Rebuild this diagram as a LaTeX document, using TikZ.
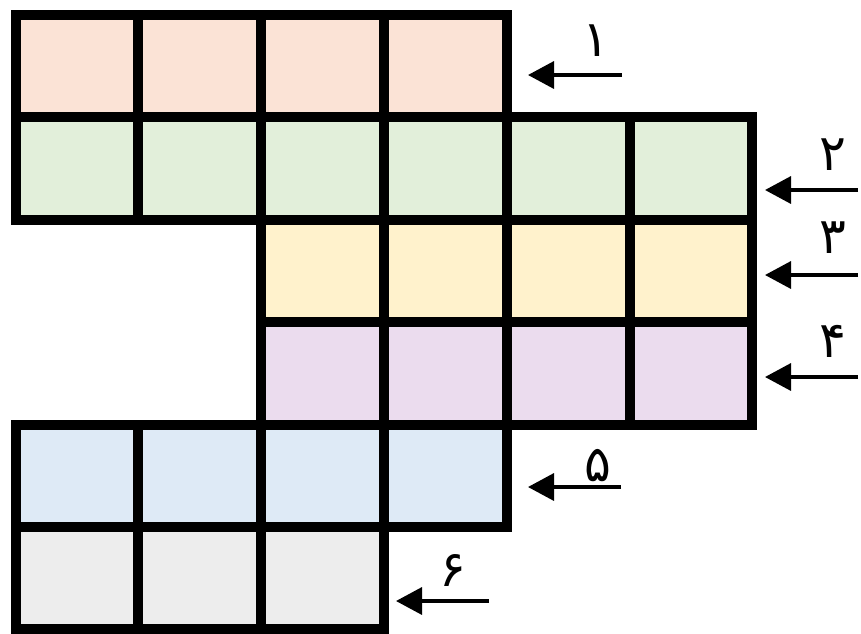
\documentclass[tikz,border=0pt]{standalone}
\usepackage{fontspec}
\newfontfamily\farsi[Script=Arabic]{DejaVu Sans}
\usepackage{tikz}
\usetikzlibrary{arrows.meta}
\definecolor{peach}{HTML}{FBE3D6}
\definecolor{mint}{HTML}{E2EFDA}
\definecolor{cream}{HTML}{FFF2CC}
\definecolor{lilac}{HTML}{EBDCEE}
\definecolor{sky}{HTML}{DEEAF6}
\definecolor{ash}{HTML}{EDEDED}
\tikzstyle{cell} = [draw, line width=10pt, line join=miter]
\tikzstyle{pointer} = [line width=3.5pt, -{Triangle[length=26pt,width=27pt]}]
\tikzstyle{digit} = [font=\farsi\fontsize{50}{50}\selectfont, inner sep=0pt]

\begin{document}
\begin{tikzpicture}[x=1pt,y=-1pt]
	\useasboundingbox (0,0) rectangle (861,633);
	\def\cw{122.8}
	\def\ch{102.4}
	% rows of cells: row / first column / last column / colour
	\foreach \r/\a/\b/\c in {0/0/3/peach,1/0/5/mint,2/2/5/cream,3/2/5/lilac,4/0/3/sky,5/0/2/ash}{
		\foreach \i in {\a,...,\b}{
			\draw[cell,fill=\c] ({15.5+\i*\cw},{15+\r*\ch}) rectangle +(\cw,\ch);
		}
	}
	% arrows
	\coordinate (s1) at (622,75);  \coordinate (e1) at (528,75);
	\coordinate (s2) at (858,190); \coordinate (e2) at (765,190);
	\coordinate (s3) at (858,275); \coordinate (e3) at (765,275);
	\coordinate (s4) at (858,377); \coordinate (e4) at (765,377);
	\coordinate (s5) at (621,487); \coordinate (e5) at (528,487);
	\coordinate (s6) at (489,601); \coordinate (e6) at (396,601);
	\foreach \k in {1,...,6}{
		\draw[pointer] (s\k) -- (e\k);
	}
	% numbers
	\node[digit] (n1) at (596,41) {۱};
	\node[digit] (n2) at (833,155) {۲};
	\node[digit] (n3) at (833,238) {۳};
	\node[digit] (n4) at (833,341) {۴};
	\node[digit] (n5) at (598,466) {۵};
	\node[digit] (n6) at (453,570) {۶};
\end{tikzpicture}
\end{document}
